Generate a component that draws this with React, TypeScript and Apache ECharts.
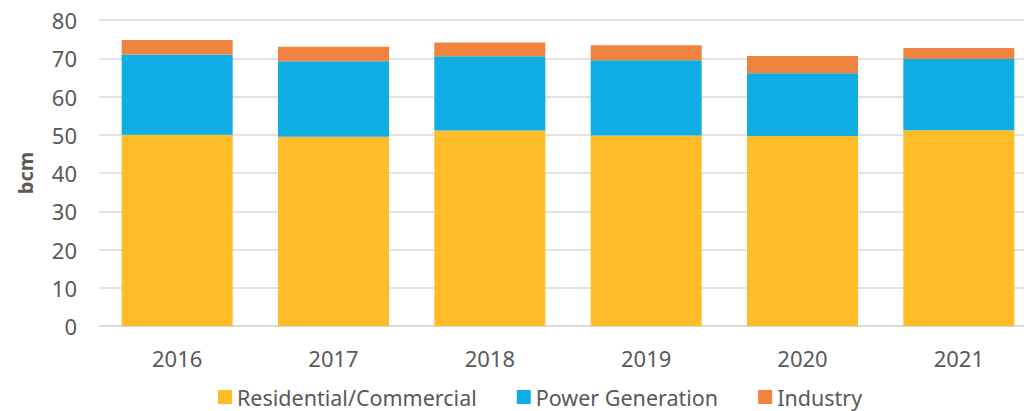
import React, { useEffect, useRef } from "react";
import * as echarts from "echarts";

const years = ["2016", "2017", "2018", "2019", "2020", "2021"];
const residential = [50.0, 49.5, 51.1, 49.8, 49.7, 51.2];
const power = [21.0, 19.7, 19.4, 19.7, 16.4, 18.6];
const industry = [3.8, 3.8, 3.6, 3.9, 4.5, 2.9];
const seriesNames = ["Residential/Commercial", "Power Generation", "Industry"];
const colors = ["#FFBC29", "#0EAEE4", "#F0833D"];

const FONT = "'Noto Sans', sans-serif";
const TXT = "#595959";

export default function App() {
  const ref = useRef<HTMLDivElement>(null);
  useEffect(() => {
    if (!ref.current) return;
    const chart = echarts.init(ref.current, undefined, { renderer: "svg" });
    const data = [residential, power, industry];
    chart.setOption({
      animation: false,
      textStyle: { fontFamily: FONT },
      grid: { left: 99, top: 20, right: 3, bottom: 85 },
      legend: {
        top: 384,
        left: 213,
        padding: [0, 5],
        itemWidth: 14,
        itemHeight: 14,
        itemGap: 40,
        icon: "rect",
        textStyle: { fontSize: 21.5, color: TXT, fontFamily: FONT, lineHeight: 26 },
        data: seriesNames,
      },
      xAxis: {
        type: "category",
        data: years,
        axisTick: { show: false },
        axisLine: { show: true, lineStyle: { color: "#D9D9D9", width: 1.5 } },
        axisLabel: { fontSize: 22, color: TXT, margin: 21, fontFamily: FONT },
      },
      yAxis: {
        type: "value",
        min: 0,
        max: 80,
        interval: 10,
        name: "bcm",
        nameLocation: "middle",
        nameGap: 64,
        nameTextStyle: { fontSize: 20, fontWeight: "bold", color: TXT, fontFamily: FONT },
        axisLabel: { fontSize: 22, color: TXT, margin: 22, fontFamily: FONT },
        splitLine: { lineStyle: { color: "#D9D9D9", width: 1.5 } },
        axisLine: { show: false },
        axisTick: { show: false },
      },
      series: seriesNames.map((n, i) => ({
        name: n,
        type: "bar",
        stack: "total",
        barWidth: 111,
        itemStyle: { color: colors[i] },
        data: data[i],
      })),
    });
    return () => chart.dispose();
  }, []);
  return (
    <div
      style={{ position: "fixed", left: 0, top: 0, width: 1024, height: 411, overflow: "hidden", background: "#fff" }}
    >
      <div ref={ref} style={{ width: 1040, height: 411 }} />
    </div>
  );
}
